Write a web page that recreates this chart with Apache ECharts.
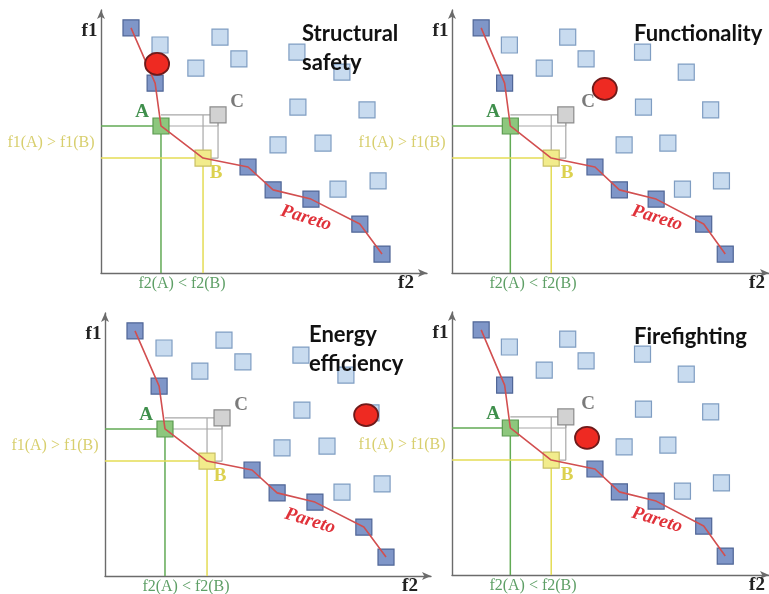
<!DOCTYPE html>
<html><head><meta charset="utf-8">
<script src="https://cdn.jsdelivr.net/npm/echarts@6/dist/echarts.min.js"></script>
<style>html,body{margin:0;padding:0;background:#fff}#c{width:769px;height:594px}</style>
</head><body><div id="c"></div>
<script>
// ---- data (f2 = horizontal, f1 = vertical) ----
const panelTitles = ['Structural\nsafety', 'Functionality', 'Energy\nefficiency', 'Firefighting'];
const frontierF2 = [9.2, 16.6, 45.1, 52.8, 64.4, 79.4, 86.2];
const frontierF1 = [93.2, 72.2, 40.3, 31.6, 28.1, 18.6, 7.2];
const pointA = [18.4, 55.9];
const pointB = [31.3, 43.7];
const pointC = [35.9, 60.1];
const dominatedF2 = [18.1, 29.1, 36.5, 42.3, 60.1, 73.9, 60.4, 81.6, 54.3, 68.1, 72.7, 85.0];
const dominatedF1 = [86.7, 77.9, 89.7, 81.4, 84.0, 76.4, 63.1, 62.0, 48.7, 49.4, 31.9, 35.0];
const solutionF2 = [17.2, 48.2, 80.1, 42.6];
const solutionF1 = [79.5, 70.0, 61.2, 52.1];
const pointLabels = ['A', 'B', 'C'];
const relationLabels = ['f1(A) > f1(B)', 'f2(A) < f2(B)'];
const frontLabel = 'Pareto';
const axisNames = ['f1', 'f2'];

// ---- layout ----
const origins = [[101, 273], [452, 273], [105, 576], [452, 575]];
const W = 326, H = 263;
const titlePos = [[302, 19], [634, 19], [309, 320], [634, 322]];

const chart = echarts.init(document.getElementById('c'), null, {renderer: 'canvas'});

const grids = [], xAxes = [], yAxes = [], series = [], graphics = [];
const axisStyle = {show: true, symbol: ['none', 'arrow'], symbolSize: [6, 9], lineStyle: {color: '#6b6b6b', width: 1.4}};

const frontAll = frontierF2.map((x, i) => [x, frontierF1[i]]).concat([pointA, pointB]).sort((a, b) => a[0] - b[0]);
const dominated = dominatedF2.map((x, i) => [x, dominatedF1[i]]);
const frontier = frontierF2.map((x, i) => [x, frontierF1[i]]);

function seg(i, data, color, z, w) {
  series.push({type: 'line', xAxisIndex: i, yAxisIndex: i, data: data, showSymbol: false, symbol: 'none',
    lineStyle: {color: color, width: w || 1.5}, z: z, silent: true, animation: false});
}
function sq(i, data, fill, border, size, z, symbol, bw) {
  series.push({type: 'scatter', xAxisIndex: i, yAxisIndex: i, data: data, symbol: symbol || 'rect',
    symbolSize: size, itemStyle: {color: fill, borderColor: border, borderWidth: bw || 1.2, opacity: 1}, z: z, silent: true, animation: false});
}

const serif = '"Liberation Serif", "DejaVu Serif", serif';

origins.forEach(([ox, oy], i) => {
  grids.push({left: ox, top: oy - H, width: W, height: H});
  xAxes.push({type: 'value', gridIndex: i, min: 0, max: 100, axisLine: axisStyle, axisTick: {show: false}, axisLabel: {show: false}, splitLine: {show: false}});
  yAxes.push({type: 'value', gridIndex: i, min: 0, max: 100, axisLine: axisStyle, axisTick: {show: false}, axisLabel: {show: false}, splitLine: {show: false}});

  // guide lines
  seg(i, [[0, pointA[1]], [pointA[0], pointA[1]]], '#62aa55', 1);
  seg(i, [[pointA[0], 0], [pointA[0], pointA[1]]], '#62aa55', 1);
  seg(i, [[0, pointB[1]], [pointB[0], pointB[1]]], '#e4dc55', 1);
  seg(i, [[pointB[0], 0], [pointB[0], pointB[1]]], '#e4dc55', 1);
  // grey dominance boxes
  seg(i, [[pointA[0], pointC[1]], [pointC[0], pointC[1]], [pointC[0], pointA[1]], [pointA[0], pointA[1]]], '#a8a8a8', 1, 1.2);
  seg(i, [[pointB[0], pointC[1]], [pointB[0], pointB[1]], [pointC[0], pointB[1]], [pointC[0], pointC[1]]], '#a8a8a8', 1, 1.2);

  sq(i, dominated, '#c8dbef', '#7f9dc2', 16, 3);
  sq(i, frontier, '#7f96c8', '#4f6596', 16, 3);
  sq(i, [pointA], '#8dc77d', '#5b9a50', 16, 3);
  sq(i, [pointB], '#f2ec8c', '#c9c064', 16, 3);
  sq(i, [pointC], '#d2d2d2', '#8c8c8c', 16, 3);
  // pareto line on top of squares
  seg(i, frontAll, '#d24f50', 4, 1.6);
  // solution
  sq(i, [[solutionF2[i], solutionF1[i]]], '#ee2a22', '#6e1a1a', [24, 22], 5, 'circle', 1.8);

  const T = (text, dx, dy, font, fill, extra) => graphics.push(Object.assign({type: 'text', x: ox + dx, y: oy + dy, z: 100,
    style: {text: text, font: font, fill: fill, textAlign: 'center', textVerticalAlign: 'middle'}}, extra || {}));
  T(axisNames[0], -11.5, -242, 'bold 19px ' + serif, '#222');
  T(axisNames[1], 305, 10, 'bold 19px ' + serif, '#222');
  T(pointLabels[0], 41, -161, 'bold 19px ' + serif, '#3f8f4c');
  T(pointLabels[1], 115, -100, 'bold 19px ' + serif, '#dcd14f');
  T(pointLabels[2], 136, -171, 'bold 19px ' + serif, '#7a7a7a');
  T(frontLabel, 205, -55, 'italic bold 19px ' + serif, '#e0323a', {rotation: -17 * Math.PI / 180});
  T(relationLabels[0], -50, -130, '16px ' + serif, '#d8cf6e');
  T(relationLabels[1], 81, 11, '16px ' + serif, '#5e9f66');

  graphics.push({type: 'text', x: titlePos[i][0], y: titlePos[i][1], z: 100,
    style: {text: panelTitles[i], font: 'bold 22px Lato, "Open Sans", sans-serif', fill: '#111', textAlign: 'left', textVerticalAlign: 'top', lineHeight: 29}});
});

chart.setOption({
  animation: false,
  backgroundColor: '#fff',
  grid: grids, xAxis: xAxes, yAxis: yAxes, series: series, graphic: graphics
});
</script></body></html>
